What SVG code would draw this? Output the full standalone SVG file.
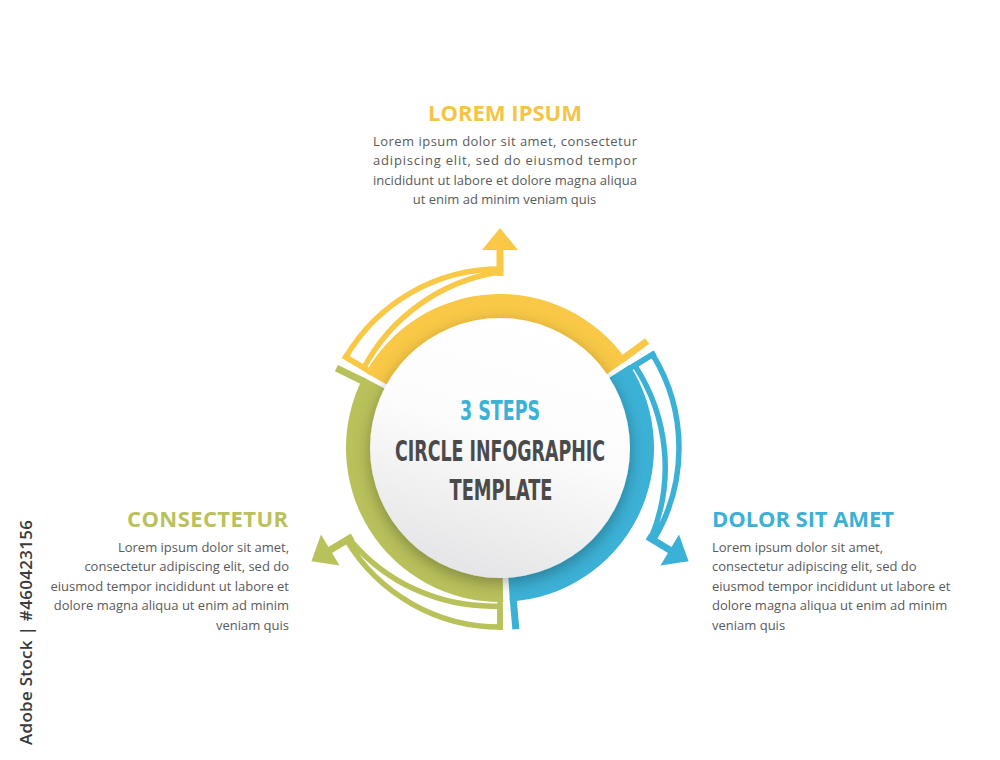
<svg xmlns="http://www.w3.org/2000/svg" width="1000" height="760" viewBox="0 0 1000 760">
<defs>
<style>
.yf{fill:#F8C846}.bf{fill:#3CB1D6}.gf{fill:#B9C15B}
.ys{stroke:#F8C846}.bs{stroke:#3CB1D6}.gs{stroke:#B9C15B}
.loop{fill:none;stroke-width:5.5;stroke-linejoin:miter}
.tab{stroke-width:7;fill:none}
.cap{stroke-width:5.5;fill:none}
.stem{stroke-width:7}
.h{font-family:"Open Sans","Roboto",sans-serif;font-weight:700;font-size:22px}
.b{font-family:"Open Sans","Liberation Sans",sans-serif;font-size:13px;fill:#5a5a5a}
.c{font-family:"Liberation Sans Narrow","DejaVu Sans Condensed","Liberation Sans",sans-serif;font-weight:700}
</style>
<linearGradient id="cg" x1="0.65" y1="0" x2="0.35" y2="1">
<stop offset="0" stop-color="#ffffff"/><stop offset="0.45" stop-color="#fcfcfc"/><stop offset="1" stop-color="#e4e4e6"/>
</linearGradient>
<filter id="sh" x="-30%" y="-30%" width="160%" height="160%">
<feDropShadow dx="0" dy="5" stdDeviation="8" flood-color="#000" flood-opacity="0.3"/>
</filter>
</defs>
<rect width="1000" height="760" fill="#ffffff"/>

<g id="step-top">
<path class="yf" d="M365.70,372.64 A154,154 0 0 1 626.64,360.36 L601.97,377.44 A124,124 0 0 0 391.86,387.32 Z"/>
<line class="tab ys" x1="621.35" y1="359.83" x2="647.24" y2="341.02"/>
<line class="cap ys" x1="370.76" y1="371.87" x2="343.18" y2="355.63"/>
<text class="h" x="505" y="121" text-anchor="middle" fill="#F6C445" textLength="154">LOREM IPSUM</text>
<text class="b" x="373" y="146" textLength="264">Lorem ipsum dolor sit amet, consectetur</text>
<text class="b" x="373" y="165" textLength="264">adipiscing elit, sed do eiusmod tempor</text>
<text class="b" x="373" y="184.5" textLength="264">incididunt ut labore et dolore magna aliqua</text>
<text class="b" x="504.5" y="203.5" text-anchor="middle">ut enim ad minim veniam quis</text>
</g>

<g id="step-right">
<path class="bf" d="M629.59,364.80 A154,154 0 0 1 509.94,601.68 L508.00,571.74 A124,124 0 0 0 604.35,381.01 Z"/>
<line class="tab bs" x1="513.07" y1="597.43" x2="515.86" y2="629.31"/>
<line class="cap bs" x1="627.90" y1="369.63" x2="655.18" y2="352.90"/>
<text class="h" x="712" y="527" fill="#3CB1D6" textLength="182">DOLOR SIT AMET</text>
<text class="b" x="712" y="552">Lorem ipsum dolor sit amet,</text>
<text class="b" x="712" y="571">consectetur adipiscing elit, sed do</text>
<text class="b" x="712" y="591">eiusmod tempor incididunt ut labore et</text>
<text class="b" x="712" y="610">dolore magna aliqua ut enim ad minim</text>
<text class="b" x="712" y="629.5">veniam quis</text>
</g>

<g id="step-left">
<path class="gf" d="M503.23,601.97 A154,154 0 0 1 363.15,377.37 L389.81,391.13 A124,124 0 0 0 502.60,571.97 Z"/>
<line class="tab gs" x1="365.18" y1="382.24" x2="336.42" y2="368.22"/>
<line class="cap gs" x1="500" y1="598" x2="500" y2="630"/>
<text class="h" x="288" y="527" text-anchor="end" fill="#B9C15B" textLength="161">CONSECTETUR</text>
<text class="b" x="289" y="552" text-anchor="end">Lorem ipsum dolor sit amet,</text>
<text class="b" x="289" y="571" text-anchor="end">consectetur adipiscing elit, sed do</text>
<text class="b" x="289" y="591" text-anchor="end">eiusmod tempor incididunt ut labore et</text>
<text class="b" x="289" y="610" text-anchor="end">dolore magna aliqua ut enim ad minim</text>
<text class="b" x="289" y="629.5" text-anchor="end">veniam quis</text>
</g>

<g id="connectors">
<path class="loop ys" d="M363.86,367.81 L345.77,357.15 A179,179 0 0 1 500,269 L500,272 A185,185 0 0 0 363.86,367.81 Z"/>
<line class="stem ys" x1="500" y1="276" x2="500" y2="249"/>
<polygon class="yf" points="482,250 518,250 500,228"/>
<path class="loop bs" d="M634.72,365.44 L652.62,354.47 A179,179 0 0 1 653.43,540.19 L650.86,538.65 A185,185 0 0 0 634.72,365.44 Z"/>
<line class="stem bs" x1="647.43" y1="536.59" x2="670.58" y2="550.49"/>
<polygon class="bf" points="660.45,565.41 678.99,534.55 688.58,561.31"/>
<path class="loop gs" d="M500,606 L500,627 A179,179 0 0 1 346.57,540.19 L349.14,538.65 A185,185 0 0 0 500,606 Z"/>
<line class="stem gs" x1="352.57" y1="536.59" x2="329.42" y2="550.49"/>
<polygon class="gf" points="321.01,534.55 339.55,565.41 311.42,561.31"/>
</g>

<g id="center">
<circle cx="500" cy="448" r="130" fill="url(#cg)" filter="url(#sh)"/>
<text class="c" x="500" y="419.5" text-anchor="middle" font-size="26" fill="#3CB1D6" textLength="80" lengthAdjust="spacingAndGlyphs">3 STEPS</text>
<text class="c" x="500" y="461" text-anchor="middle" font-size="28" fill="#4a4a4a" textLength="210" lengthAdjust="spacingAndGlyphs">CIRCLE INFOGRAPHIC</text>
<text class="c" x="501" y="499.5" text-anchor="middle" font-size="28" fill="#4a4a4a" textLength="103" lengthAdjust="spacingAndGlyphs">TEMPLATE</text>
</g>

<g id="watermark">
<text x="32" y="745" transform="rotate(-90 32 745)" font-family="'Open Sans','Liberation Sans',sans-serif" font-weight="600" font-size="17" fill="#3a3a3a" textLength="225">Adobe Stock | #460423156</text>
</g>
</svg>
